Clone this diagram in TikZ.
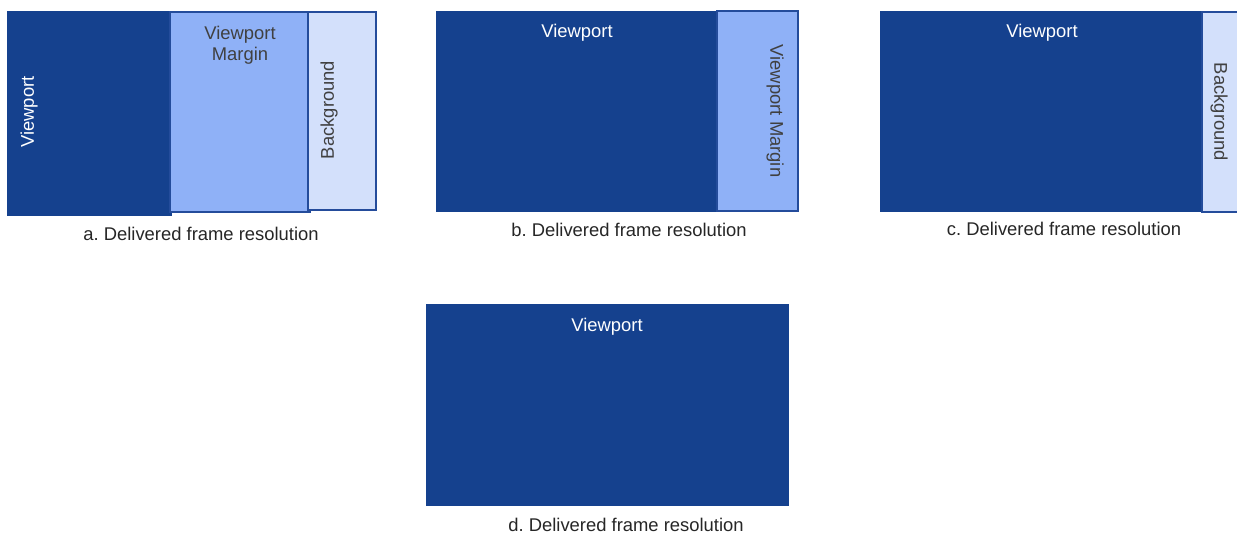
\documentclass[tikz,border=0pt]{standalone}
\usepackage{fontspec}
\setmainfont{Liberation Sans}
\frenchspacing
\definecolor{vpblue}{RGB}{21,65,142}
\definecolor{marginblue}{RGB}{143,177,247}
\definecolor{bgblue}{RGB}{211,224,251}
\definecolor{edgeblue}{RGB}{36,76,155}
\definecolor{labelgray}{RGB}{64,64,64}
\definecolor{capgray}{RGB}{38,38,38}
\tikzstyle{viewport}=[
  fill=vpblue,
  draw=vpblue
]
\tikzstyle{vpmargin}=[
  fill=marginblue,
  draw=edgeblue,
  line width=0.8pt
]
\tikzstyle{backgr}=[
  fill=bgblue,
  draw=edgeblue,
  line width=0.8pt
]
\tikzstyle{lbl}=[
  font=\fontsize{13.8}{15.8}\selectfont,
  align=center,
  inner sep=0pt
]
\tikzstyle{ondark}=[lbl, text=white]
\tikzstyle{onlight}=[lbl, text=labelgray]
\tikzstyle{caption}=[lbl, text=capgray]

\begin{document}
\begin{tikzpicture}[x=0.75pt, y=-0.75pt]
  \useasboundingbox (0,0) rectangle (1237,534);

  % a
  \draw[viewport] (7,11) rectangle (171,215);
  \draw[vpmargin] (170,12) rectangle (310,212);
  \draw[backgr]   (308,12) rectangle (376,210);
  \node[ondark,  rotate=90] (vpa) at (29,112)  {Viewport};
  \node[onlight]            (vma) at (240,45)  {Viewport\\Margin};
  \node[onlight, rotate=90] (bga) at (329,110) {Background};
  \node[caption]            (capa) at (201,234) {a. Delivered frame resolution};

  % b
  \draw[viewport] (436,11) rectangle (717,211);
  \draw[vpmargin] (717,11) rectangle (798,211);
  \node[ondark]              (vpb) at (577,33)  {Viewport};
  \node[onlight, rotate=-90] (vmb) at (775,111) {Viewport Margin};
  \node[caption]             (capb) at (629,230) {b. Delivered frame resolution};

  % c
  \draw[viewport] (880,11) rectangle (1202,211);
  \fill[bgblue] (1202,12) rectangle (1237,212);
  \draw[edgeblue, line width=0.8pt] (1237,12) -- (1202,12) -- (1202,212) -- (1237,212);
  \node[ondark]              (vpc) at (1042,33)  {Viewport};
  \node[onlight, rotate=-90] (bgc) at (1219,112) {Background};
  \node[caption]             (capc) at (1064,229) {c. Delivered frame resolution};

  % d
  \draw[viewport] (426,304) rectangle (788,505);
  \node[ondark]  (vpd) at (607,327)  {Viewport};
  \node[caption] (capd) at (626,525) {d. Delivered frame resolution};
\end{tikzpicture}
\end{document}
